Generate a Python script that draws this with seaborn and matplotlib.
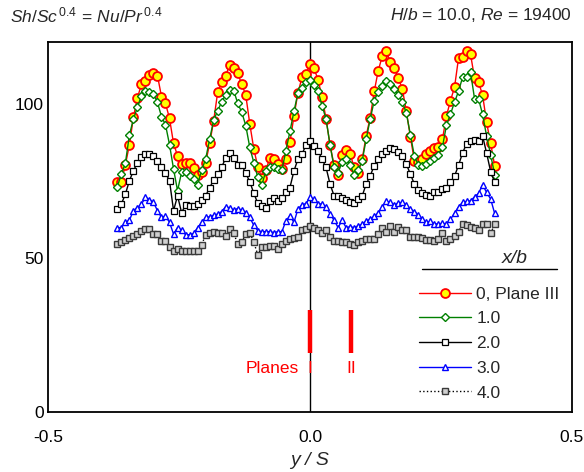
import matplotlib
matplotlib.use('Agg')
import matplotlib.pyplot as plt
import seaborn as sns
import pandas as pd
from matplotlib.ticker import FixedLocator, FuncFormatter

# measurement positions y/S
y_over_S = [-0.3677, -0.3600, -0.3524, -0.3447, -0.3370, -0.3294, -0.3217, -0.3141, -0.3064, -0.2987,
            -0.2911, -0.2834, -0.2758, -0.2681, -0.2604, -0.2528, -0.2451, -0.2375, -0.2298, -0.2221,
            -0.2145, -0.2068, -0.1992, -0.1915, -0.1838, -0.1762, -0.1685, -0.1609, -0.1532, -0.1455,
            -0.1379, -0.1302, -0.1226, -0.1149, -0.1072, -0.0996, -0.0919, -0.0843, -0.0766, -0.0689,
            -0.0613, -0.0536, -0.0460, -0.0383, -0.0306, -0.0230, -0.0153, -0.0077, 0.0,
            0.0077, 0.0153, 0.0230, 0.0306, 0.0383, 0.0460, 0.0536, 0.0613, 0.0689, 0.0766,
            0.0843, 0.0919, 0.0996, 0.1072, 0.1149, 0.1226, 0.1302, 0.1379, 0.1455, 0.1532,
            0.1609, 0.1685, 0.1762, 0.1838, 0.1915, 0.1992, 0.2068, 0.2145, 0.2221, 0.2298,
            0.2375, 0.2451, 0.2528, 0.2604, 0.2681, 0.2758, 0.2834, 0.2911, 0.2987, 0.3064,
            0.3141, 0.3217, 0.3294, 0.3370, 0.3447, 0.3524]

# x/b = 0 (Plane III)
sh_xb0 = [74.7, 74.7, 80.1, 86.6, 95.6, 101.8, 106.3, 107.3, 109.4, 110.0,
          109.1, 102.3, 100.1, 95.2, 87.1, 83.1, 80.4, 80.8, 80.8, 79.0,
          76.8, 77.9, 80.8, 87.1, 94.5, 103.7, 106.9, 109.1, 112.6, 111.6,
          109.8, 106.3, 102.8, 93.4, 85.3, 79.5, 75.8, 78.5, 82.3, 82.0,
          80.5, 78.8, 82.2, 87.5, 96.0, 103.5, 108.5, 109.5, 112.8,
          111.5, 107.7, 102.3, 95.1, 86.5, 80.0, 77.0, 83.3, 85.0, 83.7,
          79.3, 77.5, 82.0, 89.6, 95.5, 104.0, 110.7, 115.4, 117.0, 113.6,
          111.5, 108.3, 104.8, 97.6, 89.3, 81.5, 81.2, 82.0, 83.7, 84.5,
          85.5, 85.8, 88.5, 96.0, 101.0, 105.3, 114.7, 115.0, 117.0, 116.0,
          108.2, 106.9, 102.8, 93.9, 87.2, 79.9]
# x/b = 1.0
sh_xb1 = [73.1, 77.2, 80.6, 89.8, 95.0, 98.8, 102.6, 104.2, 103.7, 103.1,
          100.4, 95.8, 93.2, 86.7, 78.8, 71.8, 77.7, 77.7, 76.6, 75.5,
          73.7, 78.5, 82.0, 88.5, 94.7, 97.7, 100.6, 102.9, 104.4, 104.2,
          100.1, 97.2, 92.9, 85.8, 80.9, 76.1, 73.6, 78.2, 79.3, 79.5,
          78.8, 78.5, 84.7, 91.0, 97.5, 103.5, 105.0, 107.1, 107.8,
          106.0, 104.0, 99.4, 95.0, 86.6, 79.3, 77.5, 81.2, 82.0, 80.1,
          77.0, 78.6, 81.5, 88.5, 95.0, 101.0, 103.9, 105.8, 107.5, 106.4,
          104.8, 102.8, 100.6, 97.0, 90.0, 83.0, 80.0, 79.8, 80.5, 81.5,
          82.5, 83.5, 86.0, 93.0, 96.6, 100.5, 104.0, 108.5, 108.5, 110.2,
          101.5, 101.5, 96.5, 89.5, 83.5, 77.0]
# x/b = 2.0
sh_xb2 = [66.0, 67.5, 70.6, 75.0, 78.2, 80.9, 82.6, 83.7, 83.7, 83.1,
          81.5, 79.5, 77.5, 75.0, 65.3, 70.1, 64.7, 67.1, 66.9, 66.9,
          67.4, 68.7, 70.1, 72.8, 75.2, 77.1, 79.5, 82.3, 84.0, 82.5,
          80.1, 80.1, 77.4, 74.7, 70.9, 67.7, 66.7, 66.3, 68.5, 69.3,
          68.5, 69.3, 71.2, 72.8, 78.2, 82.0, 83.6, 86.6, 88.0,
          86.4, 84.7, 82.0, 79.3, 73.9, 70.1, 70.1, 69.4, 68.8, 68.2,
          67.7, 69.1, 70.1, 73.9, 76.6, 79.9, 82.0, 83.7, 84.7, 85.6,
          85.3, 84.4, 83.1, 80.4, 77.2, 73.9, 72.0, 70.9, 70.3, 70.1,
          71.2, 71.5, 72.3, 72.8, 74.5, 76.5, 80.0, 84.0, 87.0, 88.0,
          88.3, 88.0, 89.5, 84.0, 78.0, 74.5]
# x/b = 3.0
sh_xb3 = [59.8, 59.8, 61.5, 62.2, 65.3, 66.3, 67.4, 69.6, 68.9, 68.0,
          65.3, 63.1, 63.6, 61.5, 57.7, 59.8, 59.0, 57.5, 57.5, 57.9,
          59.8, 61.5, 63.1, 63.3, 63.8, 64.2, 65.0, 66.6, 66.2, 65.5,
          66.0, 65.5, 64.7, 63.1, 60.5, 58.8, 58.5, 58.5, 58.5, 58.2,
          58.5, 58.5, 62.0, 63.6, 61.5, 65.8, 67.2, 67.6, 69.6,
          69.1, 67.6, 67.4, 66.6, 64.2, 62.2, 59.8, 62.2, 59.8, 60.1,
          59.8, 60.4, 60.9, 62.0, 62.5, 63.5, 64.5, 66.5, 68.3, 68.0,
          67.2, 67.8, 68.0, 67.2, 65.8, 65.0, 64.0, 62.5, 61.5, 61.8,
          61.0, 61.0, 61.2, 61.0, 62.5, 64.5, 66.5, 68.0, 68.3, 68.5,
          69.8, 70.9, 73.7, 71.2, 69.1, 64.4]
# x/b = 4.0
sh_xb4 = [54.4, 55.0, 55.7, 56.4, 57.1, 57.7, 58.8, 59.3, 59.3, 57.7,
          57.7, 55.5, 55.3, 53.6, 52.3, 52.8, 52.3, 52.3, 52.3, 52.3,
          52.3, 54.2, 57.5, 57.9, 58.5, 58.0, 58.0, 57.1, 59.5, 58.0,
          54.4, 55.0, 57.7, 58.2, 55.0, 51.0, 53.4, 53.4, 53.8, 53.8,
          52.8, 54.4, 55.3, 56.1, 56.4, 56.8, 59.0, 59.3, 60.4,
          59.6, 59.0, 58.2, 59.0, 56.8, 55.3, 55.5, 55.0, 55.0, 54.4,
          54.2, 55.0, 55.5, 56.1, 56.1, 56.1, 57.6, 59.8, 58.5, 60.4,
          58.5, 60.1, 59.0, 59.0, 56.8, 56.8, 56.6, 56.3, 55.8, 55.7,
          55.3, 56.1, 58.2, 55.3, 56.1, 57.1, 58.5, 60.9, 60.6, 60.1,
          59.8, 59.0, 60.9, 60.9, 58.0, 60.9]

series_labels = ['0, Plane III', '1.0', '2.0', '3.0', '4.0']
series_values = [sh_xb0, sh_xb1, sh_xb2, sh_xb3, sh_xb4]
plane_positions = [0.0, 0.078]
plane_names = ['I', 'II']

sns.set_theme(style='white')
plt.rcParams['font.family'] = ['Liberation Sans', 'DejaVu Sans']
plt.rcParams['mathtext.fontset'] = 'custom'
plt.rcParams['mathtext.rm'] = 'Liberation Sans'
plt.rcParams['mathtext.it'] = 'Liberation Sans:italic'
plt.rcParams['mathtext.bf'] = 'Liberation Sans:bold'

FS = 12.5
fig = plt.figure(figsize=(5.84, 4.72), dpi=100)
ax = fig.add_axes([48 / 584, 60 / 472, 524 / 584, 370 / 472])

styles = [
    dict(color='#ff0000', marker='o', markersize=6.4, markerfacecolor='#ffff00',
         markeredgecolor='#ff0000', markeredgewidth=1.3, linewidth=1.0, linestyle='-'),
    dict(color='#008000', marker='D', markersize=3.6, markerfacecolor='white',
         markeredgecolor='#008000', markeredgewidth=1.0, linewidth=1.0, linestyle='-'),
    dict(color='black', marker='s', markersize=4.0, markerfacecolor='white',
         markeredgecolor='black', markeredgewidth=0.9, linewidth=1.0, linestyle='-'),
    dict(color='#0000ff', marker='^', markersize=5.0, markerfacecolor='white',
         markeredgecolor='#0000ff', markeredgewidth=1.0, linewidth=1.0, linestyle='-'),
    dict(color='black', marker='s', markersize=3.8, markerfacecolor='#d0d0d0',
         markeredgecolor='#3a3a3a', markeredgewidth=1.0, linewidth=1.0, linestyle=':'),
]

ax.axvline(0, color='black', lw=1.0, zorder=1)

for lab, vals, st in zip(series_labels, series_values, styles):
    df = pd.DataFrame({'y/S': y_over_S, 'v': vals})
    sns.lineplot(data=df, x='y/S', y='v', ax=ax, sort=False, estimator=None,
                 label=lab, zorder=3, **st)

ax.set_xlim(-0.5, 0.5)
ax.set_ylim(0, 120)

ax.xaxis.set_major_locator(FixedLocator([-0.5 + 0.1 * k for k in range(11)]))
ax.yaxis.set_major_locator(FixedLocator([10 * k for k in range(13)]))

def xfmt(v, p):
    if abs(abs(v) - 0.5) < 1e-6 or abs(v) < 1e-6:
        return f'{v:.1f}'.replace('-0.0', '0.0')
    return ''

def yfmt(v, p):
    return f'{v:g}' if abs(v % 50) < 1e-6 else ''

ax.xaxis.set_major_formatter(FuncFormatter(xfmt))
ax.yaxis.set_major_formatter(FuncFormatter(yfmt))
ax.tick_params(axis='both', direction='in', length=5, width=1, labelsize=FS,
               colors='black')
ax.tick_params(axis='x', pad=13)
ax.tick_params(axis='y', pad=3)
for sp in ax.spines.values():
    sp.set_linewidth(1.3)
    sp.set_color('black')
    sp.set_visible(True)

ax.set_xlabel('y / S', fontstyle='italic', fontsize=14, labelpad=5)
ax.set_ylabel('')

# plane markers
ax.vlines(plane_positions, 19, 33, colors='#ff0000', lw=3.2, zorder=4)
ax.text(-0.022, 14.0, 'Planes', color='#ff0000', ha='right', va='center', fontsize=FS)
for xp, nm in zip(plane_positions, plane_names):
    ax.text(xp, 14.0, nm, color='#ff0000', ha='center', va='center', fontsize=FS)

# legend
handles, labels = ax.get_legend_handles_labels()
leg = ax.legend(handles, labels, loc='upper left', bbox_to_anchor=(0.708, 0.339),
                frameon=False, handlelength=3.0, handletextpad=0.3,
                labelspacing=0.55, borderaxespad=0, borderpad=0, numpoints=1,
                fontsize=FS)
ax.text(0.8912, 0.416, 'x/b', transform=ax.transAxes, fontstyle='italic',
        ha='center', va='center', fontsize=14)
ax.plot([0.7137, 0.9714], [0.3865, 0.3865], transform=ax.transAxes,
        color='black', lw=1.0, clip_on=False)

# headers
fig.text(10 / 584, 1 - 15 / 472,
         r'$\mathit{Sh/Sc}^{\,0.4}\mathrm{\,=\,}\mathit{Nu/Pr}^{\,0.4}$',
         ha='left', va='center', fontsize=FS)
fig.text(572 / 584, 1 - 15 / 472, r'$\mathit{H/b}$ = 10.0, $\mathit{Re}$ = 19400',
         ha='right', va='center', fontsize=FS)

fig.savefig('out.png', dpi=100)
